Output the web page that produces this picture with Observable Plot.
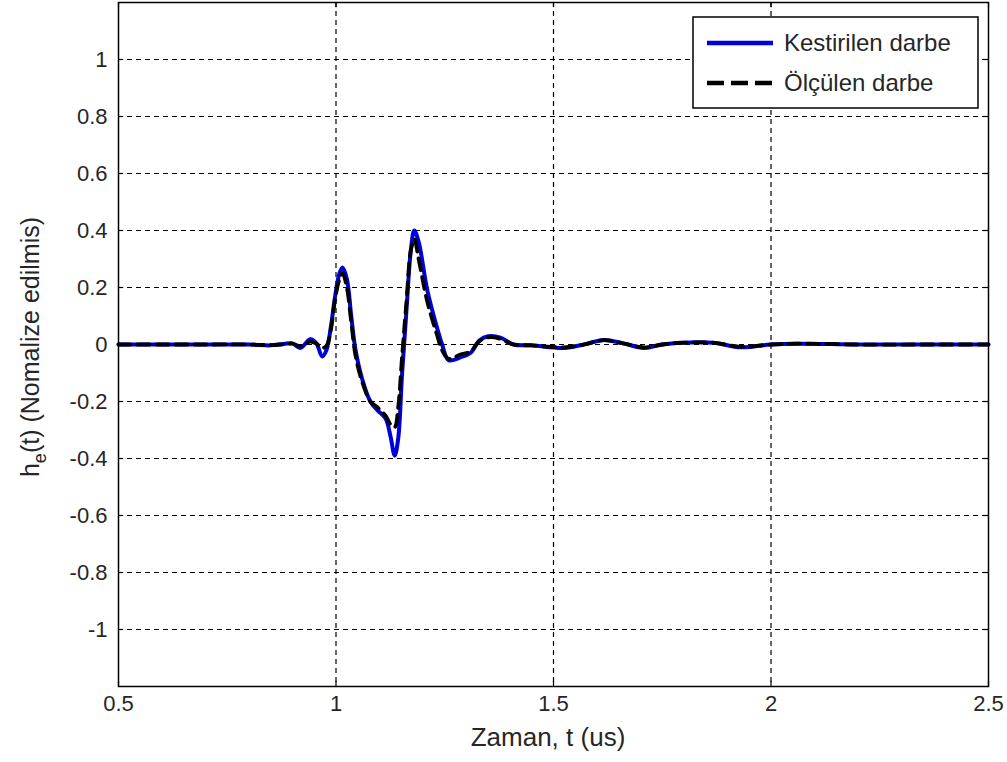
<!DOCTYPE html>
<html>
<head>
<meta charset="utf-8">
<script src="https://cdn.jsdelivr.net/npm/d3@7"></script>
<script src="https://cdn.jsdelivr.net/npm/@observablehq/plot@0.6"></script>
<style>
  html, body { margin: 0; padding: 0; background: #fff; }
  #chart { position: relative; width: 1007px; height: 762px; }
</style>
</head>
<body>
<div id="chart"></div>
<script>
// ---- data ----
const times = [0.50, 0.60, 0.70, 0.80, 0.85, 0.88, 0.90, 0.918, 0.941, 0.955, 0.968, 0.978, 0.988, 0.998, 1.008, 1.015, 1.025, 1.035, 1.045, 1.06, 1.079, 1.095, 1.114, 1.125, 1.135, 1.143, 1.152, 1.162, 1.172, 1.18, 1.19, 1.21, 1.232, 1.244, 1.259, 1.286, 1.309, 1.33, 1.35, 1.378, 1.408, 1.45, 1.524, 1.57, 1.616, 1.66, 1.708, 1.75, 1.792, 1.868, 1.93, 2.0, 2.06, 2.2, 2.35, 2.5];
const estimated = [0, 0, 0, 0, -0.003, 0.002, 0.004, -0.012, 0.018, 0.004, -0.042, -0.02, 0.06, 0.17, 0.25, 0.27, 0.23, 0.10, -0.02, -0.12, -0.20, -0.23, -0.26, -0.32, -0.39, -0.33, -0.10, 0.12, 0.33, 0.40, 0.36, 0.19, 0.06, 0.0, -0.055, -0.045, -0.03, 0.015, 0.029, 0.024, 0, -0.003, -0.012, 0, 0.016, 0.004, -0.012, 0, 0.006, 0.006, -0.01, 0, 0.003, 0, 0, 0];
const measured = [0, 0, 0, 0, -0.002, 0.001, 0.003, -0.006, 0.01, 0.003, -0.012, -0.005, 0.05, 0.16, 0.23, 0.25, 0.20, 0.08, -0.04, -0.13, -0.20, -0.22, -0.25, -0.28, -0.29, -0.22, -0.04, 0.15, 0.33, 0.37, 0.30, 0.15, 0.035, -0.02, -0.05, -0.035, -0.025, 0.012, 0.025, 0.02, 0, -0.003, -0.01, 0, 0.015, 0.004, -0.01, 0, 0.006, 0.006, -0.008, 0, 0.003, 0, 0, 0];
const seriesNames = ["Kestirilen darbe", "Ölçülen darbe"];
const xTicks = [0.5, 1, 1.5, 2, 2.5];
const xTickLabels = ["0.5", "1", "1.5", "2", "2.5"];
const yTicks = [-1, -0.8, -0.6, -0.4, -0.2, 0, 0.2, 0.4, 0.6, 0.8, 1];
const yTickLabels = ["-1", "-0.8", "-0.6", "-0.4", "-0.2", "0", "0.2", "0.4", "0.6", "0.8", "1"];
const xLabel = "Zaman, t (us)";
const yLabelMain = "h";
const yLabelSub = "e";
const yLabelRest = "(t) (Nomalize edilmis)";

// ---- build ----
const blueRows = times.map((t, i) => ({t, v: estimated[i]}));
const blackRows = times.map((t, i) => ({t, v: measured[i]}));
const FONT = "'Liberation Sans', Arial, sans-serif";
const BLUE = "#0000dd";
const TXT = "#262626";

const xLo = 0.5, xHi = 2.5, yLo = -1.2, yHi = 1.2;
const tickLenX = 0.012;   // inward tick length in x units
const tickLenY = 0.018;   // inward tick length in y units

const plot = Plot.plot({
  width: 1007,
  height: 762,
  marginLeft: 118,
  marginRight: 19,
  marginTop: 2,
  marginBottom: 76,
  style: {fontFamily: FONT, background: "#fff", color: TXT},
  x: {domain: [xLo, xHi], label: null},
  y: {domain: [yLo, yHi], label: null},
  marks: [
    Plot.gridX(xTicks.slice(1, -1), {stroke: "#000", strokeOpacity: 1, strokeWidth: 1.2, strokeDasharray: "5,4"}),
    Plot.gridY(yTicks, {stroke: "#000", strokeOpacity: 1, strokeWidth: 1.2, strokeDasharray: "5,4"}),
    // inward ticks on all four sides
    Plot.ruleY(yTicks, {x1: xLo, x2: xLo + tickLenX, stroke: "#000", strokeWidth: 1.2}),
    Plot.ruleY(yTicks, {x1: xHi - tickLenX, x2: xHi, stroke: "#000", strokeWidth: 1.2}),
    Plot.ruleX(xTicks, {y1: yLo, y2: yLo + tickLenY, stroke: "#000", strokeWidth: 1.2}),
    Plot.ruleX(xTicks, {y1: yHi - tickLenY, y2: yHi, stroke: "#000", strokeWidth: 1.2}),
    Plot.line(blueRows, {x: "t", y: "v", stroke: BLUE, strokeWidth: 4, curve: "catmull-rom"}),
    Plot.line(blackRows, {x: "t", y: "v", stroke: "#000", strokeWidth: 3.8, strokeDasharray: "12,7", curve: "catmull-rom"}),
    Plot.frame({stroke: "#000", strokeWidth: 1.5}),
    Plot.axisX(xTicks, {tickSize: 0, tickPadding: 9, fontSize: 22, tickFormat: (d) => xTickLabels[xTicks.indexOf(d)], label: null, fill: TXT}),
    Plot.axisY(yTicks, {tickSize: 0, tickPadding: 11, fontSize: 22, tickFormat: (d) => yTickLabels[yTicks.indexOf(d)], label: null, fill: TXT})
  ]
});

document.getElementById("chart").appendChild(plot);

// ---- axis titles and legend ----
const svg = d3.select(plot);
const xs = plot.scale("x"), ys = plot.scale("y");
const pLeft = xs.apply(xLo), pRight = xs.apply(xHi), pTop = ys.apply(yHi), pBottom = ys.apply(yLo);

svg.append("text")
  .attr("x", (pLeft + pRight) / 2 - 5).attr("y", pBottom + 60)
  .attr("text-anchor", "middle")
  .attr("font-family", FONT).attr("font-size", 26).attr("fill", TXT)
  .text(xLabel);

const yl = svg.append("text")
  .attr("transform", `translate(39,${(pTop + pBottom) / 2 + 3}) rotate(-90)`)
  .attr("text-anchor", "middle")
  .attr("font-family", FONT).attr("font-size", 25).attr("fill", TXT);
yl.append("tspan").text(yLabelMain);
yl.append("tspan").attr("font-size", 18).attr("dy", 7).text(yLabelSub);
yl.append("tspan").attr("dy", -7).text(yLabelRest);

// legend
const lx = 693, ly = 17, lw = 285, lh = 91;
const lg = svg.append("g").attr("text-anchor", "start");
lg.append("rect").attr("x", lx).attr("y", ly).attr("width", lw).attr("height", lh)
  .attr("fill", "#fff").attr("stroke", "#000").attr("stroke-width", 1.5);
const entries = [
  {name: seriesNames[0], stroke: BLUE, dash: null, y: ly + 26},
  {name: seriesNames[1], stroke: "#000", dash: "17,7", y: ly + 66}
];
entries.forEach((e) => {
  const ln = lg.append("line").attr("x1", lx + 14).attr("x2", lx + 80)
    .attr("y1", e.y).attr("y2", e.y)
    .attr("stroke", e.stroke).attr("stroke-width", 4.5);
  if (e.dash) ln.attr("stroke-dasharray", e.dash);
  lg.append("text").attr("x", lx + 91).attr("y", e.y).attr("dy", "0.33em")
    .attr("text-anchor", "start")
    .attr("font-family", FONT).attr("font-size", 24).attr("fill", TXT)
    .text(e.name);
});
</script>
</body>
</html>
